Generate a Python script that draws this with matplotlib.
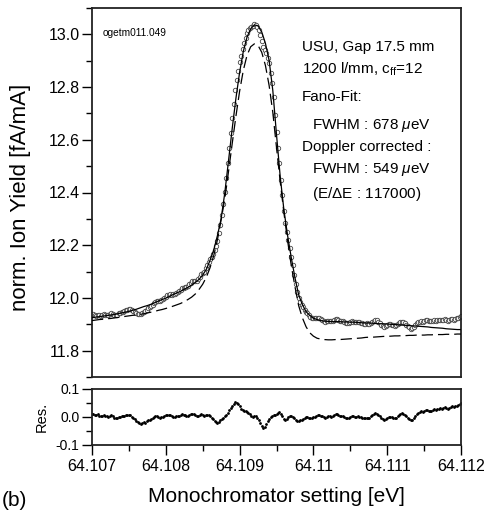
import numpy as np
import matplotlib
matplotlib.use("Agg")
import matplotlib.pyplot as plt
from matplotlib.ticker import MultipleLocator

plt.rcParams['font.family'] = ['Liberation Sans', 'DejaVu Sans']
plt.rcParams['mathtext.fontset'] = 'custom'
plt.rcParams['mathtext.rm'] = 'Liberation Sans'
plt.rcParams['mathtext.it'] = 'Liberation Sans:italic'

# ---------------- data ----------------
E_START = 64.107
E_STOP = 64.112

# measured ion yield, step 0.00002 eV
data_yield = [
    11.935, 11.938, 11.935, 11.933, 11.937, 11.934, 11.932, 11.935, 11.938, 11.937,
    11.936, 11.935, 11.938, 11.941, 11.938, 11.935, 11.935, 11.937, 11.942, 11.941,
    11.945, 11.948, 11.949, 11.954, 11.954, 11.957, 11.957, 11.953, 11.950, 11.947,
    11.943, 11.940, 11.938, 11.938, 11.943, 11.948, 11.949, 11.954, 11.960, 11.964,
    11.970, 11.975, 11.981, 11.985, 11.989, 11.987, 11.988, 11.994, 11.995, 12.001,
    12.005, 12.010, 12.011, 12.014, 12.013, 12.014, 12.015, 12.020, 12.023, 12.027,
    12.031, 12.037, 12.039, 12.040, 12.040, 12.045, 12.051, 12.057, 12.063, 12.064,
    12.065, 12.066, 12.072, 12.081, 12.089, 12.093, 12.100, 12.112, 12.124, 12.135,
    12.147, 12.157, 12.166, 12.180, 12.196, 12.215, 12.245, 12.276, 12.315, 12.357,
    12.402, 12.456, 12.512, 12.569, 12.627, 12.684, 12.737, 12.787, 12.828, 12.862,
    12.894, 12.918, 12.945, 12.968, 12.987, 13.007, 13.016, 13.025, 13.029, 13.030,
    13.039, 13.036, 13.029, 13.017, 12.996, 12.976, 12.952, 12.941, 12.929, 12.912,
    12.893, 12.855, 12.815, 12.762, 12.693, 12.630, 12.570, 12.512, 12.448, 12.389,
    12.329, 12.285, 12.251, 12.220, 12.190, 12.155, 12.124, 12.087, 12.052, 12.022,
    11.998, 11.985, 11.972, 11.964, 11.956, 11.948, 11.943, 11.935, 11.928, 11.924,
    11.922, 11.922, 11.922, 11.923, 11.923, 11.919, 11.916, 11.912, 11.910, 11.911,
    11.913, 11.913, 11.911, 11.913, 11.916, 11.919, 11.920, 11.917, 11.914, 11.912,
    11.911, 11.909, 11.906, 11.905, 11.906, 11.909, 11.911, 11.910, 11.907, 11.908,
    11.909, 11.907, 11.905, 11.903, 11.901, 11.902, 11.903, 11.902, 11.902, 11.906,
    11.910, 11.913, 11.916, 11.915, 11.910, 11.905, 11.899, 11.894, 11.890, 11.893,
    11.897, 11.900, 11.901, 11.899, 11.896, 11.895, 11.897, 11.900, 11.904, 11.908,
    11.910, 11.909, 11.905, 11.899, 11.893, 11.888, 11.883, 11.885, 11.891, 11.897,
    11.904, 11.908, 11.910, 11.913, 11.910, 11.913, 11.917, 11.917, 11.914, 11.911,
    11.912, 11.914, 11.916, 11.914, 11.915, 11.917, 11.918, 11.915, 11.918, 11.919,
    11.916, 11.914, 11.916, 11.920, 11.920, 11.918, 11.920, 11.922, 11.923, 11.927,
    11.930,
]

# residuals (data - fit), step 0.00002 eV
residual = [
    0.010, 0.012, 0.008, 0.006, 0.009, 0.005, 0.002, 0.004, 0.007, 0.005,
    0.003, 0.001, 0.003, 0.006, 0.002, -0.002, -0.003, -0.002, 0.001, -0.001,
    0.002, 0.004, 0.004, 0.007, 0.006, 0.008, 0.006, 0.001, -0.004, -0.008,
    -0.014, -0.019, -0.023, -0.025, -0.022, -0.019, -0.020, -0.016, -0.012, -0.010,
    -0.006, -0.003, 0.000, 0.002, 0.003, -0.001, -0.002, 0.001, 0.000, 0.004,
    0.006, 0.008, 0.006, 0.007, 0.003, 0.001, 0.000, 0.002, 0.003, 0.004,
    0.006, 0.009, 0.008, 0.006, 0.003, 0.005, 0.007, 0.010, 0.012, 0.009,
    0.006, 0.003, 0.004, 0.008, 0.009, 0.006, 0.004, 0.007, 0.008, 0.006,
    0.004, -0.002, -0.008, -0.013, -0.019, -0.022, -0.018, -0.012, -0.006, -0.003,
    0.002, 0.008, 0.015, 0.024, 0.033, 0.041, 0.048, 0.053, 0.051, 0.046,
    0.038, 0.030, 0.026, 0.022, 0.020, 0.018, 0.014, 0.010, 0.005, 0.000,
    0.003, 0.002, -0.004, -0.010, -0.022, -0.033, -0.040, -0.034, -0.024, -0.015,
    -0.008, 0.000, 0.005, 0.008, 0.006, 0.010, 0.014, 0.019, 0.012, 0.004,
    -0.006, -0.011, -0.006, 0.000, 0.003, 0.002, 0.001, -0.005, -0.012, -0.016,
    -0.014, -0.012, -0.010, -0.006, -0.003, 0.000, 0.001, -0.002, -0.004, -0.003,
    -0.001, 0.001, 0.003, 0.006, 0.007, 0.005, 0.003, 0.000, -0.002, 0.000,
    0.002, 0.003, 0.001, 0.003, 0.006, 0.009, 0.010, 0.007, 0.004, 0.003,
    0.002, 0.000, -0.003, -0.004, -0.002, 0.001, 0.003, 0.002, 0.000, 0.001,
    0.002, 0.001, -0.001, -0.003, -0.004, -0.003, -0.002, -0.003, -0.002, 0.002,
    0.006, 0.010, 0.013, 0.012, 0.008, 0.003, -0.003, -0.008, -0.011, -0.008,
    -0.004, 0.000, 0.001, -0.001, -0.003, -0.004, -0.002, 0.002, 0.006, 0.010,
    0.013, 0.012, 0.008, 0.003, -0.003, -0.008, -0.012, -0.010, -0.004, 0.003,
    0.010, 0.014, 0.017, 0.020, 0.018, 0.021, 0.025, 0.026, 0.023, 0.021,
    0.022, 0.025, 0.027, 0.026, 0.027, 0.030, 0.031, 0.029, 0.032, 0.034,
    0.031, 0.030, 0.033, 0.037, 0.038, 0.036, 0.039, 0.041, 0.043, 0.047,
    0.050,
]

# Fano fit (solid), step 0.00005 eV
fano_fit = [
    11.925, 11.927, 11.929, 11.931, 11.933, 11.935, 11.937, 11.940, 11.943, 11.946,
    11.949, 11.953, 11.957, 11.962, 11.967, 11.971, 11.976, 11.982, 11.988, 11.994,
    11.999, 12.006, 12.013, 12.019, 12.025, 12.033, 12.040, 12.049, 12.059, 12.070,
    12.087, 12.109, 12.143, 12.182, 12.237, 12.301, 12.400, 12.521, 12.643, 12.757,
    12.856, 12.935, 12.989, 13.021, 13.036, 13.032, 13.009, 12.966, 12.901, 12.787,
    12.620, 12.461, 12.335, 12.237, 12.153, 12.077, 12.012, 11.975, 11.948, 11.934,
    11.923, 11.918, 11.914, 11.912, 11.911, 11.910, 11.910, 11.910, 11.909, 11.909,
    11.908, 11.908, 11.907, 11.906, 11.905, 11.905, 11.904, 11.903, 11.902, 11.902,
    11.901, 11.900, 11.899, 11.898, 11.897, 11.896, 11.895, 11.894, 11.893, 11.892,
    11.891, 11.890, 11.888, 11.887, 11.886, 11.885, 11.883, 11.882, 11.881, 11.880,
    11.880,
]

# Doppler-corrected profile (dashed), step 0.00005 eV
doppler_corr = [
    11.914, 11.916, 11.918, 11.919, 11.921, 11.922, 11.924, 11.926, 11.928, 11.930,
    11.932, 11.934, 11.935, 11.937, 11.940, 11.943, 11.946, 11.949, 11.953, 11.956,
    11.960, 11.964, 11.969, 11.974, 11.979, 11.986, 11.994, 12.003, 12.015, 12.032,
    12.052, 12.079, 12.115, 12.161, 12.221, 12.297, 12.377, 12.480, 12.586, 12.689,
    12.784, 12.863, 12.920, 12.953, 12.964, 12.958, 12.932, 12.882, 12.806, 12.704,
    12.571, 12.442, 12.324, 12.218, 12.123, 12.043, 11.971, 11.925, 11.891, 11.868,
    11.855, 11.847, 11.844, 11.842, 11.841, 11.841, 11.842, 11.842, 11.843, 11.844,
    11.845, 11.846, 11.847, 11.848, 11.850, 11.851, 11.851, 11.852, 11.853, 11.854,
    11.854, 11.855, 11.856, 11.856, 11.857, 11.857, 11.858, 11.858, 11.859, 11.859,
    11.859, 11.860, 11.860, 11.861, 11.861, 11.861, 11.862, 11.862, 11.862, 11.863,
    11.863,
]

x_ticks = [64.107, 64.108, 64.109, 64.110, 64.111, 64.112]
x_ticklabels = ["64.107", "64.108", "64.109", "64.11", "64.111", "64.112"]
y_ticks = [11.8, 12.0, 12.2, 12.4, 12.6, 12.8, 13.0]
res_ticks = [-0.1, 0.0, 0.1]

info_lines = [
    "USU, Gap 17.5 mm",
    r"1200 l/mm, c$_{\rm ff}$=12",
    "Fano-Fit:",
    r"FWHM : 678 $\mu$eV",
    "Doppler corrected :",
    r"FWHM : 549 $\mu$eV",
    r"(E/$\Delta$E : 117000)",
]

# energies
e_data = np.linspace(E_START, E_STOP, len(data_yield))
e_res = np.linspace(E_START, E_STOP, len(residual))
e_fit = np.linspace(E_START, E_STOP, len(fano_fit))
e_dop = np.linspace(E_START, E_STOP, len(doppler_corr))

# ---------------- figure ----------------
W, H = 485, 515
fig = plt.figure(figsize=(4.85, 5.15), dpi=100)
AX_L, AX_R = 92, 461
ax = fig.add_axes([AX_L/W, 1-377/H, (AX_R-AX_L)/W, 369/H])
axr = fig.add_axes([AX_L/W, 1-445/H, (AX_R-AX_L)/W, 56/H])

ax.plot(e_data, data_yield, linestyle='none', marker='o', markersize=3.2,
        markerfacecolor='white', markeredgecolor='#444444', markeredgewidth=0.6, zorder=2)
ax.plot(e_fit, fano_fit, color='black', lw=0.9, zorder=3)
ax.plot(e_dop, doppler_corr, color='black', lw=0.9, dashes=(9, 4), zorder=3)

ax.set_xlim(E_START, E_STOP)
ax.set_ylim(11.7, 13.1)
ax.set_xticks(x_ticks)
ax.xaxis.set_minor_locator(MultipleLocator(0.0005))
ax.tick_params(axis='x', which='both', bottom=False, labelbottom=False)
ax.set_yticks(y_ticks)
ax.set_yticklabels([f"{v:.1f}" for v in y_ticks])
ax.yaxis.set_minor_locator(MultipleLocator(0.1))
ax.tick_params(axis='y', which='major', direction='out', length=7, width=1,
               labelsize=11.5, pad=2)
ax.tick_params(axis='y', which='minor', direction='out', length=4, width=1)
ax.set_ylabel("norm. Ion Yield [fA/mA]", fontsize=16)
ax.yaxis.set_label_coords((21-AX_L)/369, (377-197)/369)
ax.yaxis.label.set_va('center')

axr.plot(e_res, residual, linestyle='none', marker='o', markersize=2.0,
         color='black', markeredgewidth=0)
axr.set_xlim(E_START, E_STOP)
axr.set_ylim(-0.1, 0.1)
axr.set_xticks(x_ticks)
axr.set_xticklabels(x_ticklabels)
axr.xaxis.set_minor_locator(MultipleLocator(0.0005))
axr.set_yticks(res_ticks)
axr.set_yticklabels([f"{v:.1f}" for v in res_ticks])
axr.yaxis.set_minor_locator(MultipleLocator(0.05))
axr.tick_params(axis='both', which='major', direction='out', length=7, width=1,
                labelsize=11.5, pad=3)
axr.tick_params(axis='both', which='minor', direction='out', length=4, width=1)
axr.tick_params(axis='y', labelsize=10, pad=2)
axr.set_ylabel("Res.", fontsize=10.5)
axr.yaxis.set_label_coords((42-AX_L)/369, 0.5)
axr.yaxis.label.set_va('center')
axr.set_xlabel("Monochromator setting [eV]", fontsize=15)
axr.xaxis.set_label_coords(0.5, (445-497)/56)
axr.xaxis.label.set_va('center')

for a in (ax, axr):
    for s in a.spines.values():
        s.set_linewidth(1.3)
        s.set_color('#222222')

ax.text((103-AX_L)/369, 1-(33-8)/369, "ogetm011.049", transform=ax.transAxes,
        fontsize=7.3, va='center', ha='left')

line_y = [47, 69, 97, 125, 147, 169, 194]
line_x = [302, 302, 302, 312, 302, 312, 312]
for txt, px, py in zip(info_lines, line_x, line_y):
    ax.text((px-AX_L)/369, 1-(py-8)/369, txt, transform=ax.transAxes,
            fontsize=11, va='center', ha='left')

fig.text(2/W, 1-500/H, "(b)", fontsize=15, va='center', ha='left')

fig.savefig("out.png", dpi=100)
